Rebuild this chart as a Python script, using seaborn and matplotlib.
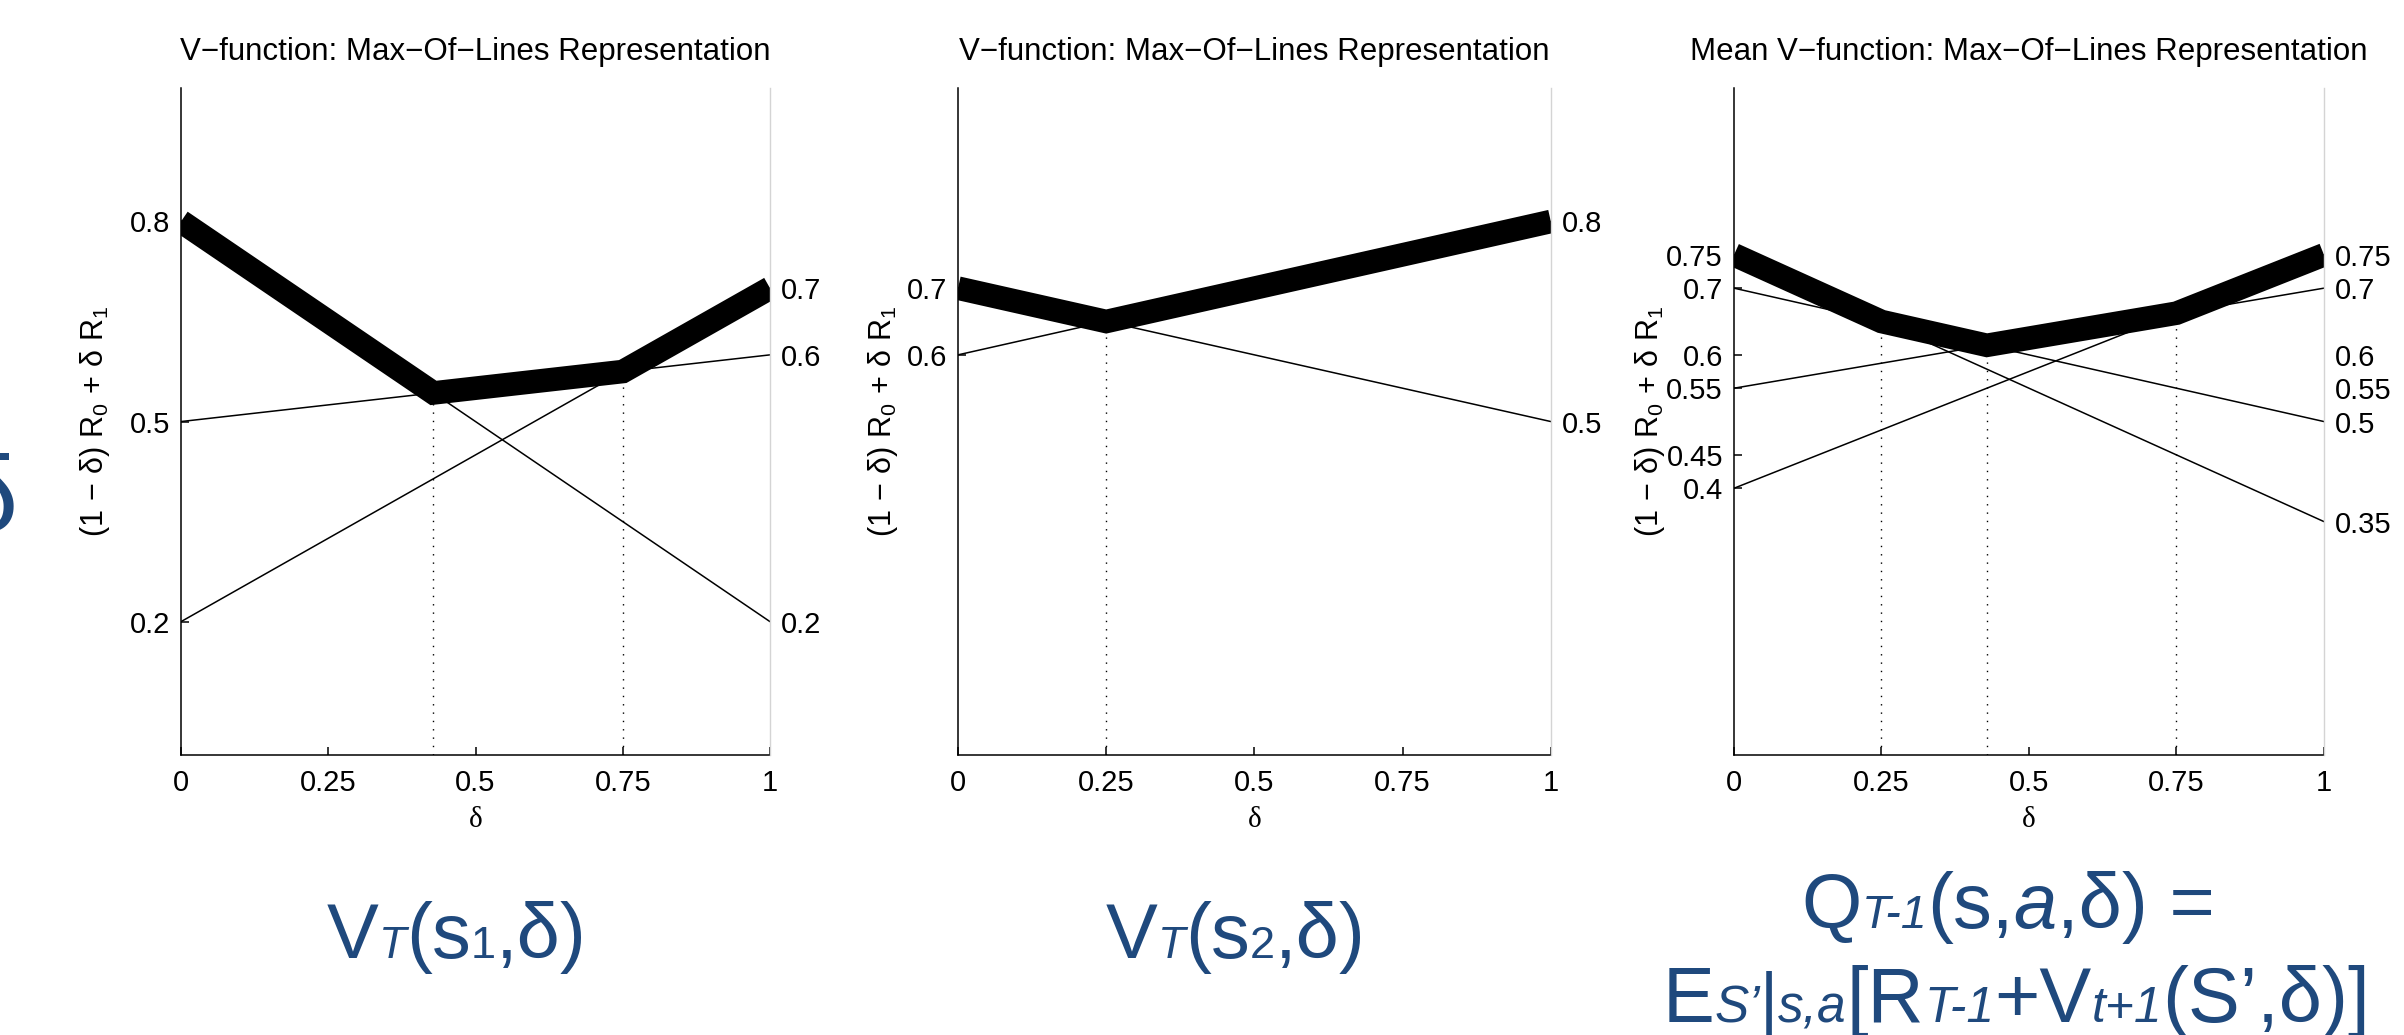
import matplotlib
matplotlib.use('Agg')
import matplotlib.pyplot as plt
import seaborn as sns
import pandas as pd
from matplotlib.offsetbox import TextArea, HPacker, AnnotationBbox

# valeurs
delta_ticks = [0, 0.25, 0.5, 0.75, 1]
delta_tick_labels = ['0', '0.25', '0.5', '0.75', '1']

# panneau 1 : V_T(s1, delta)
p1_r0 = [0.8, 0.5, 0.2]
p1_r1 = [0.2, 0.6, 0.7]
p1_env_delta = [0, 0.4286, 0.75, 1]
p1_env_value = [0.8, 0.5429, 0.575, 0.7]
p1_left_ticks = [0.2, 0.5, 0.8]
p1_right_ticks = [0.2, 0.6, 0.7]

# panneau 2 : V_T(s2, delta)
p2_r0 = [0.7, 0.6]
p2_r1 = [0.5, 0.8]
p2_env_delta = [0, 0.25, 1]
p2_env_value = [0.7, 0.65, 0.8]
p2_left_ticks = [0.6, 0.7]
p2_right_ticks = [0.5, 0.8]

# panneau 3 : moyenne
p3_r0 = [0.75, 0.7, 0.55, 0.4]
p3_r1 = [0.35, 0.5, 0.7, 0.75]
p3_env_delta = [0, 0.25, 0.4286, 0.75, 1]
p3_env_value = [0.75, 0.65, 0.6143, 0.6625, 0.75]
p3_left_ticks = [0.4, 0.45, 0.55, 0.6, 0.7, 0.75]
p3_right_ticks = [0.35, 0.5, 0.55, 0.6, 0.7, 0.75]

titles = ['V\u2212function: Max\u2212Of\u2212Lines Representation',
          'V\u2212function: Max\u2212Of\u2212Lines Representation',
          'Mean V\u2212function: Max\u2212Of\u2212Lines Representation']

# morceaux des formules bleues : (texte, echelle, italique)
f1 = [('V', 1, False), ('T', 0.58, True), ('(s', 1, False), ('1', 0.58, False), (',δ)', 1, False)]
f2 = [('V', 1, False), ('T', 0.58, True), ('(s', 1, False), ('2', 0.58, False), (',δ)', 1, False)]
f3a = [('Q', 1, False), ('T-1', 0.6, True), ('(s,', 1, False), ('a', 1, True), (',δ) =', 1, False)]
f3b = [('E', 1, False), ('S\u2019', 0.66, True), ('|', 0.9, False), ('s,a', 0.66, True),
       ('[R', 1, False), ('T-1', 0.64, True), ('+V', 1, False), ('t+1', 0.64, True),
       ('(S\u2019,δ)]', 1, False)]

BLUE = '#1F497D'

sns.set_theme(style='white')
plt.rcParams['font.family'] = ['Liberation Sans', 'DejaVu Sans']
plt.rcParams['mathtext.fontset'] = 'custom'
plt.rcParams['mathtext.rm'] = 'Liberation Sans'
plt.rcParams['mathtext.it'] = 'Liberation Sans:italic'

fig = plt.figure(figsize=(24.04, 10.35), dpi=100)

rects = [[0.0753, 0.2705, 0.245, 0.6444],
         [0.3985, 0.2705, 0.2466, 0.6444],
         [0.7213, 0.2705, 0.2454, 0.6444]]
ylabel_x = [-0.118, -0.098, -0.113]

panels = [(p1_r0, p1_r1, p1_env_delta, p1_env_value, p1_left_ticks, p1_right_ticks),
          (p2_r0, p2_r1, p2_env_delta, p2_env_value, p2_left_ticks, p2_right_ticks),
          (p3_r0, p3_r1, p3_env_delta, p3_env_value, p3_left_ticks, p3_right_ticks)]

for i, (r0, r1, env_d, env_v, lt, rt) in enumerate(panels):
    ax = fig.add_axes(rects[i])
    df = pd.DataFrame({'delta': [0] * len(r0) + [1] * len(r1),
                       'value': r0 + r1,
                       'line': list(range(len(r0))) * 2})
    sns.lineplot(data=df, x='delta', y='value', units='line', estimator=None,
                 color='black', linewidth=1.1, ax=ax, legend=False)
    sns.lineplot(x=env_d, y=env_v, color='black', linewidth=17, ax=ax,
                 solid_capstyle='butt', solid_joinstyle='miter')
    ax.vlines(env_d[1:-1], 0, env_v[1:-1], colors='black',
              linestyles=(0, (1, 5)), linewidth=1.0)

    ax.set_xlim(0, 1)
    ax.set_ylim(0, 1)
    ax.set_xticks(delta_ticks)
    ax.set_xticklabels(delta_tick_labels)
    ax.set_yticks(lt)
    ax.set_yticklabels([f'{v:g}' for v in lt])
    ax.tick_params(direction='in', length=6, width=1.1, labelsize=21, colors='black',
                   left=True, bottom=True)
    ax.tick_params(axis='x', pad=10)
    ax.tick_params(axis='y', pad=8)
    for s in ['top', 'right']:
        ax.spines[s].set_visible(False)
    for s in ['left', 'bottom']:
        ax.spines[s].set_color('black')
        ax.spines[s].set_linewidth(1.1)

    ax.set_title(titles[i], fontsize=22.5, pad=20, color='black')
    ax.set_xlabel('δ', fontsize=21, family=['Liberation Serif', 'DejaVu Serif'], color='black')
    ax.xaxis.set_label_coords(0.5, -0.078)
    ax.set_ylabel(r'$\mathrm{(1\,-\,δ)\ R_0\,+\,δ\ R_1}$', fontsize=22, color='black')
    ax.yaxis.set_label_coords(ylabel_x[i], 0.5)

    ax2 = ax.twinx()
    ax2.set_ylim(0, 1)
    ax2.set_yticks(rt)
    ax2.set_yticklabels([f'{v:g}' for v in rt])
    ax2.tick_params(axis='y', length=0, pad=8, labelsize=21, colors='black', right=True)
    for s in ['top', 'left', 'bottom']:
        ax2.spines[s].set_visible(False)
    ax2.spines['right'].set_color('#d4d4d4')
    ax2.spines['right'].set_linewidth(1.0)
    ax2.grid(False)


def formula(pieces, x, y, size=55):
    boxes = []
    for text, scale, italic in pieces:
        boxes.append(TextArea(text, textprops=dict(color=BLUE, fontsize=size * scale,
                                                    fontstyle='italic' if italic else 'normal',
                                                    family='Liberation Sans')))
    pack = HPacker(children=boxes, align='baseline', pad=0, sep=0)
    ab = AnnotationBbox(pack, (x, y), xycoords='figure fraction', frameon=False,
                        box_alignment=(0.5, 0.0), pad=0)
    fig.add_artist(ab)


formula(f1, 457 / 2404, 0.0589, size=56)
formula(f2, 1236 / 2404, 0.0589, size=56)
formula(f3a, 2008 / 2404, 0.0879, size=56)
formula(f3b, 2016 / 2404, -0.003, size=56)

# morceau de lettre coupe au bord gauche
fig.text(18 / 2404, 0.487, 'δ', color=BLUE, fontsize=78, ha='right', va='baseline')

fig.savefig('out.png', dpi=100)
